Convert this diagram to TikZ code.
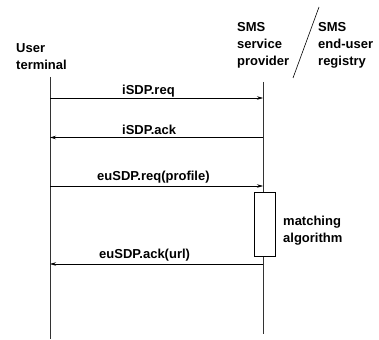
\documentclass[tikz,border=0pt]{standalone}
\usepackage{fontspec}
\setmainfont{Liberation Sans}[BoldFont={Liberation Sans Bold}]
\newfontfamily\hb{Liberation Sans Bold}
\usetikzlibrary{arrows.meta}
\begin{document}
\begin{tikzpicture}[x=1pt,y=-1pt,
  lbl/.style={font=\hb\fontsize{13}{17}\selectfont, inner sep=0pt, anchor=base west},
  hdr/.style={lbl, align=left},
  life/.style={line width=0.6pt, draw=black!80},
  msg/.style={line width=0.6pt, -{Stealth[length=6pt,width=3.5pt]}},
  proc/.style={draw, line width=0.6pt, minimum width=21pt, minimum height=64pt, inner sep=0pt, fill=white}]
\useasboundingbox (0,0) rectangle (379,339);
% headers (anchor = baseline of last line)
\node[hdr] (ut) at (16,70) {User\\terminal};
\node[hdr] (sp) at (237,66) {SMS\\service\\provider};
\node[hdr] (er) at (318,66) {SMS\\end{-}user\\registry};
\coordinate (s1) at (293,78);
\coordinate (s2) at (319,7);
\draw[line width=0.6pt] (s1) -- (s2);
% lifelines
\coordinate (a0) at (50,77);
\coordinate (a1) at (50,339);
\coordinate (b0) at (263,82);
\coordinate (b1) at (263,334);
\draw[life] (a0) -- (a1);
\draw[life] (b0) -- (b1);
% messages
\coordinate (m1a) at (50,98);  \coordinate (m1b) at (263,98);
\coordinate (m2a) at (50,137.5); \coordinate (m2b) at (263,137.5);
\coordinate (m3a) at (50,186); \coordinate (m3b) at (263,186);
\coordinate (m4a) at (50,264); \coordinate (m4b) at (263,264);
\draw[msg] (m1a) -- (m1b);
\draw[msg] (m2b) -- (m2a);
\draw[msg] (m3a) -- (m3b);
\draw[msg] (m4b) -- (m4a);
\node[lbl] (t1) at (122,95) {iSDP.req};
\node[lbl] (t2) at (122,134.5) {iSDP.ack};
\node[lbl] (t3) at (97,180) {euSDP.req(profile)};
\node[lbl] (t4) at (99,258) {euSDP.ack(url)};
% processing box
\node[proc] (box) at (264.5,224) {};
\node[hdr] (ma) at (283,242) {matching\\algorithm};
\end{tikzpicture}
\end{document}
